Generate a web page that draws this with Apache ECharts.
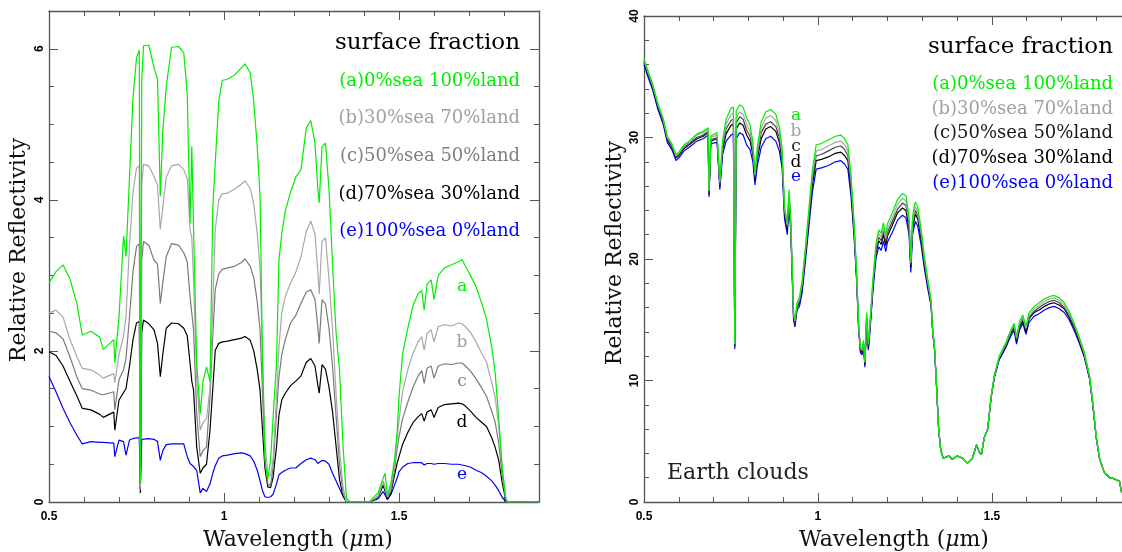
<!DOCTYPE html>
<html><head><meta charset="utf-8">
<script src="https://cdn.jsdelivr.net/npm/echarts@6/dist/echarts.min.js"></script>
<style>html,body{margin:0;padding:0;background:#fff}#c{width:1122px;height:552px}</style>
</head><body><div id="c"></div>
<script>
// ---------- LEFT PANEL DATA (wavelength in micron) ----------
const lamL = [
 0.50,0.52,0.54,0.56,0.58,0.595,0.62,0.645,0.655,0.685,
 0.688,0.70,0.713,0.72,0.73,0.74,0.75,0.758,0.761,0.765,
 0.77,0.785,0.80,0.81,0.818,0.825,0.835,0.85,0.87,0.885,
 0.895,0.903,0.908,0.913,0.922,0.932,0.94,0.95,0.96,0.968,
 0.975,0.985,0.995,1.01,1.03,1.05,1.06,1.075,1.085,1.095,
 1.103,1.11,1.117,1.125,1.133,1.14,1.15,1.157,1.165,1.175,
 1.19,1.205,1.22,1.235,1.248,1.26,1.268,1.272,1.28,1.29,
 1.30,1.31,1.32,1.33,1.34,1.35,1.36,1.40,1.415,1.44,
 1.455,1.46,1.467,1.477,1.487,1.495,1.50,1.51,1.525,1.54,
 1.555,1.565,1.572,1.58,1.592,1.60,1.612,1.63,1.65,1.67,
 1.68,1.69,1.705,1.72,1.735,1.75,1.765,1.775,1.785,1.795,
 1.805,1.81,1.90];
const leftA = [
 2.90,3.05,3.14,2.95,2.62,2.21,2.26,2.18,2.02,2.15,
 1.84,2.45,3.52,3.25,4.30,5.35,5.88,5.98,0.24,5.60,
 6.04,6.05,5.75,5.60,4.05,4.90,5.50,6.02,6.03,5.95,
 5.40,3.69,4.71,3.61,1.84,1.17,1.60,1.79,1.60,3.90,
 4.49,5.30,5.58,5.60,5.65,5.75,5.80,5.68,5.30,4.70,
 4.05,1.90,0.55,0.30,0.55,1.10,1.84,3.20,3.55,3.85,
 4.10,4.30,4.40,4.95,5.05,4.75,4.15,3.96,4.70,4.75,
 4.14,3.16,2.25,1.75,0.75,0.05,0,0,0,0.12,
 0.32,0.38,0.09,0.25,0.55,0.95,1.39,1.95,2.30,2.60,
 2.76,2.80,2.54,2.88,2.94,2.68,3.00,3.10,3.14,3.18,
 3.21,3.12,2.99,2.85,2.65,2.42,2.05,1.70,1.10,0.45,
 0.05,0,0];
const leftB = [
 2.50,2.54,2.45,2.15,1.92,1.77,1.75,1.68,1.64,1.70,
 1.58,1.95,2.20,2.45,3.40,4.10,4.42,4.45,0.20,4.20,
 4.47,4.45,4.31,4.20,3.61,3.90,4.30,4.45,4.47,4.40,
 4.28,3.61,3.50,2.94,1.62,0.95,1.05,1.10,1.50,2.60,
 3.61,4.00,4.08,4.09,4.14,4.21,4.25,4.15,3.95,3.55,
 3.08,1.95,0.80,0.36,0.35,0.55,1.39,2.05,2.50,2.72,
 2.90,3.04,3.25,3.58,3.72,3.55,3.05,2.75,3.45,3.50,
 2.95,2.30,1.45,0.70,0.20,0,0,0,0,0.08,
 0.28,0.30,0.07,0.22,0.50,0.85,1.08,1.45,1.75,1.97,
 2.12,2.19,2.01,2.23,2.28,2.12,2.32,2.35,2.33,2.37,
 2.36,2.32,2.24,2.12,1.98,1.85,1.58,1.38,1.00,0.45,
 0.05,0,0];
const leftC = [
 2.26,2.24,2.16,1.92,1.65,1.50,1.48,1.43,1.42,1.46,
 1.22,1.62,1.75,1.90,2.45,3.05,3.38,3.42,0.16,3.20,
 3.45,3.40,3.20,3.15,2.63,2.90,3.25,3.42,3.40,3.30,
 3.18,2.72,2.50,2.28,1.17,0.60,0.68,0.73,1.39,2.20,
 2.81,3.02,3.08,3.10,3.12,3.17,3.22,3.12,2.97,2.65,
 2.28,1.45,0.60,0.24,0.22,0.45,1.17,1.65,1.95,2.15,
 2.37,2.47,2.63,2.78,2.81,2.68,2.32,2.10,2.68,2.62,
 2.30,1.80,1.15,0.50,0.12,0,0,0,0,0.07,
 0.27,0.28,0.06,0.15,0.42,0.72,0.86,1.10,1.32,1.52,
 1.67,1.74,1.57,1.77,1.80,1.64,1.80,1.83,1.82,1.84,
 1.84,1.80,1.73,1.63,1.52,1.40,1.20,1.05,0.78,0.35,
 0.04,0,0];
const leftD = [
 1.99,1.94,1.80,1.60,1.40,1.24,1.22,1.16,1.12,1.19,
 0.95,1.35,1.45,1.50,1.80,2.15,2.37,2.39,0.12,2.25,
 2.41,2.36,2.28,2.10,1.66,1.95,2.30,2.37,2.36,2.30,
 2.20,1.84,1.60,1.48,0.73,0.38,0.45,0.50,0.95,1.50,
 2.01,2.10,2.12,2.13,2.15,2.17,2.19,2.14,2.00,1.75,
 1.48,0.95,0.45,0.20,0.19,0.32,0.73,1.15,1.35,1.44,
 1.54,1.60,1.67,1.85,1.90,1.80,1.55,1.44,1.82,1.76,
 1.52,1.20,0.75,0.30,0.08,0,0,0,0,0.06,
 0.22,0.24,0.04,0.12,0.35,0.52,0.60,0.76,0.92,1.05,
 1.13,1.17,1.07,1.19,1.22,1.12,1.25,1.29,1.30,1.31,
 1.30,1.27,1.20,1.12,1.06,1.00,0.85,0.72,0.55,0.25,
 0.03,0,0];
const leftE = [
 1.66,1.46,1.24,1.05,0.88,0.77,0.80,0.79,0.79,0.78,
 0.60,0.82,0.80,0.62,0.82,0.84,0.85,0.85,0.18,0.83,
 0.84,0.84,0.83,0.80,0.55,0.68,0.76,0.77,0.77,0.77,
 0.60,0.51,0.50,0.47,0.42,0.12,0.18,0.14,0.24,0.38,
 0.48,0.58,0.61,0.62,0.64,0.65,0.64,0.61,0.54,0.42,
 0.28,0.15,0.07,0.06,0.07,0.10,0.24,0.36,0.39,0.42,
 0.45,0.45,0.51,0.56,0.58,0.56,0.51,0.50,0.55,0.54,
 0.50,0.38,0.28,0.18,0.08,0,0,0,0,0.04,
 0.14,0.15,0.03,0.10,0.22,0.32,0.40,0.46,0.51,0.52,
 0.52,0.52,0.49,0.51,0.51,0.50,0.51,0.51,0.50,0.50,
 0.49,0.48,0.46,0.42,0.39,0.34,0.28,0.22,0.15,0.06,
 0.01,0,0];

// ---------- RIGHT PANEL DATA (Earth clouds) ----------
const lamR = [
 0.50,0.51,0.525,0.54,0.555,0.567,0.58,0.592,0.60,0.615,
 0.63,0.652,0.67,0.684,0.687,0.692,0.71,0.718,0.726,0.736,
 0.75,0.757,0.761,0.765,0.775,0.785,0.795,0.805,0.813,0.819,
 0.826,0.837,0.85,0.864,0.879,0.889,0.897,0.904,0.912,0.917,
 0.922,0.93,0.934,0.94,0.947,0.955,0.965,0.972,0.984,0.995,
 1.01,1.03,1.05,1.066,1.077,1.086,1.095,1.104,1.111,1.117,
 1.122,1.127,1.131,1.135,1.14,1.145,1.15,1.158,1.167,1.175,
 1.182,1.188,1.195,1.20,1.214,1.229,1.243,1.253,1.262,1.267,
 1.272,1.28,1.287,1.297,1.306,1.316,1.325,1.33,1.335,1.34,
 1.347,1.353,1.36,1.377,1.387,1.40,1.416,1.43,1.444,1.456,
 1.464,1.47,1.478,1.488,1.498,1.507,1.521,1.54,1.555,1.564,
 1.571,1.58,1.589,1.598,1.607,1.622,1.636,1.651,1.665,1.679,
 1.694,1.708,1.722,1.737,1.751,1.766,1.781,1.79,1.80,1.81,
 1.824,1.839,1.853,1.867,1.872,1.88,1.90];
const rightA = [
 36.5,35.6,34.4,32.8,31.6,30.1,29.5,28.6,28.8,29.4,
 29.7,30.3,30.5,30.8,25.7,30.1,30.4,26.5,29.8,31.5,
 32.4,32.5,13.1,32.2,32.7,32.5,31.6,31.0,29.6,27.1,
 29.3,31.3,32.1,32.3,31.9,30.9,29.1,24.3,23.0,25.7,
 23.2,15.6,15.0,16.4,16.9,18.3,21.3,23.5,27.3,29.4,
 29.5,29.8,30.1,30.2,29.9,29.4,27.0,23.0,19.1,14.7,
 12.8,12.6,13.3,11.6,15.6,13.1,15.0,18.3,21.3,22.4,
 22.1,23.0,22.0,22.9,23.8,24.9,25.4,25.2,23.5,19.9,
 23.5,24.7,24.3,22.4,20.2,18.3,16.7,14.2,12.8,10.1,
 6.0,4.3,3.6,3.8,3.5,3.8,3.6,3.2,3.6,4.7,
 4.1,3.9,5.3,6.0,8.7,10.4,12.0,13.1,14.2,14.7,
 13.6,14.9,15.4,14.5,15.6,16.1,16.4,16.7,16.9,17.0,
 16.8,16.4,15.7,14.7,13.6,12.3,10.4,8.2,5.4,3.5,
 2.4,2.0,1.9,1.7,0.9,0.6,0.5];
const rightB = [
 36.4,35.5,34.3,32.7,31.5,30.0,29.4,28.5,28.7,29.3,
 29.6,30.2,30.4,30.7,25.6,30.0,30.2,26.3,29.5,31.1,
 31.9,32.0,13.0,31.6,32.1,31.9,31.1,30.5,29.2,26.9,
 28.9,30.8,31.6,31.8,31.4,30.4,28.7,24.1,22.8,25.4,
 23.0,15.5,14.9,16.3,16.7,18.1,21.0,23.2,26.9,28.9,
 29.0,29.3,29.6,29.7,29.4,28.9,26.6,22.7,18.9,14.6,
 12.7,12.5,13.2,11.5,15.4,13.0,14.8,18.1,21.0,22.1,
 21.8,22.6,21.7,22.5,23.4,24.5,25.0,24.8,23.1,19.7,
 23.1,24.3,23.9,22.1,20.0,18.1,16.6,14.1,12.8,10.1,
 6.0,4.3,3.6,3.8,3.5,3.8,3.6,3.2,3.6,4.7,
 4.1,3.9,5.3,6.0,8.7,10.4,11.9,13.0,14.1,14.6,
 13.5,14.7,15.2,14.3,15.4,15.9,16.2,16.5,16.7,16.8,
 16.6,16.2,15.5,14.6,13.5,12.2,10.3,8.2,5.4,3.5,
 2.4,2.0,1.9,1.7,0.9,0.6,0.5];
const rightC = [
 36.3,35.4,34.2,32.6,31.4,29.9,29.3,28.4,28.6,29.2,
 29.5,30.0,30.2,30.5,25.4,29.8,30.0,26.1,29.3,30.7,
 31.4,31.5,12.9,31.2,31.7,31.5,30.6,30.1,28.9,26.7,
 28.6,30.4,31.1,31.3,30.9,30.0,28.4,23.9,22.6,25.2,
 22.8,15.3,14.7,16.1,16.5,17.9,20.8,22.9,26.5,28.5,
 28.6,28.9,29.2,29.3,29.0,28.5,26.2,22.5,18.7,14.5,
 12.6,12.4,13.1,11.4,15.2,12.8,14.6,17.9,20.8,21.8,
 21.5,22.3,21.4,22.2,23.1,24.1,24.6,24.4,22.8,19.5,
 22.8,24.0,23.6,21.8,19.8,17.9,16.5,14.1,12.7,10.1,
 6.0,4.3,3.6,3.8,3.5,3.8,3.6,3.2,3.6,4.7,
 4.1,3.9,5.3,6.0,8.7,10.3,11.9,12.9,14.0,14.4,
 13.3,14.6,15.1,14.2,15.2,15.7,16.0,16.3,16.5,16.6,
 16.4,16.0,15.4,14.4,13.4,12.1,10.3,8.1,5.4,3.5,
 2.4,2.0,1.9,1.7,0.9,0.6,0.5];
const rightD = [
 36.2,35.3,34.1,32.5,31.3,29.8,29.2,28.3,28.5,29.1,
 29.4,29.9,30.1,30.4,25.3,29.7,29.9,26.0,29.0,30.3,
 31.0,31.1,12.8,30.7,31.2,31.0,30.2,29.7,28.6,26.5,
 28.3,29.9,30.7,30.9,30.5,29.6,28.1,23.7,22.4,24.9,
 22.6,15.2,14.6,16.0,16.4,17.7,20.5,22.6,26.1,28.1,
 28.2,28.4,28.7,28.8,28.5,28.1,25.8,22.2,18.6,14.4,
 12.5,12.3,13.0,11.3,15.1,12.7,14.5,17.7,20.5,21.5,
 21.2,22.0,21.1,21.9,22.8,23.8,24.2,24.0,22.5,19.3,
 22.5,23.7,23.3,21.5,19.6,17.8,16.4,14.0,12.7,10.1,
 6.0,4.3,3.6,3.8,3.5,3.8,3.6,3.2,3.6,4.7,
 4.1,3.9,5.3,6.0,8.6,10.3,11.8,12.8,13.9,14.3,
 13.2,14.4,14.9,14.0,15.1,15.6,15.8,16.1,16.3,16.4,
 16.2,15.9,15.2,14.3,13.3,12.0,10.2,8.1,5.3,3.5,
 2.4,2.0,1.9,1.7,0.9,0.6,0.5];
const rightE = [
 36.0,35.1,33.9,32.3,31.1,29.6,29.0,28.1,28.3,28.9,
 29.2,29.7,29.9,30.2,25.1,29.5,29.6,25.7,28.6,29.7,
 30.2,30.3,12.6,29.9,30.4,30.2,29.4,29.0,28.0,26.1,
 27.7,29.2,29.9,30.1,29.7,28.9,27.5,23.3,22.0,24.5,
 22.2,15.0,14.4,15.8,16.1,17.3,20.1,22.1,25.5,27.4,
 27.5,27.7,28.0,28.1,27.8,27.4,25.2,21.8,18.3,14.2,
 12.3,12.1,12.8,11.1,14.8,12.5,14.2,17.3,20.1,21.0,
 20.7,21.5,20.6,21.4,22.2,23.2,23.6,23.4,22.0,18.9,
 22.0,23.1,22.7,21.1,19.2,17.5,16.2,13.9,12.6,10.1,
 6.0,4.3,3.6,3.8,3.5,3.8,3.6,3.2,3.6,4.7,
 4.1,3.9,5.3,6.0,8.6,10.2,11.7,12.7,13.7,14.1,
 13.0,14.2,14.7,13.8,14.8,15.3,15.5,15.8,16.0,16.1,
 15.9,15.6,15.0,14.1,13.1,11.9,10.1,8.0,5.3,3.5,
 2.4,2.0,1.9,1.7,0.9,0.6,0.5];

// ---------- TEXT ----------
const legendTitle = 'surface fraction';
const legendLabels = ['(a)0%sea 100%land','(b)30%sea 70%land','(c)50%sea 50%land','(d)70%sea 30%land','(e)100%sea 0%land'];
const curveLetters = ['a','b','c','d','e'];
const xTitle = 'Wavelength ({i|\u03bc}m)';
const yTitle = 'Relative Reflectivity';
const noteRight = 'Earth clouds';

// ---------- STYLE ----------
const leftColors = ['#00ee00','#a8a8a8','#7a7a7a','#000000','#0000ff'];
const rightColors = ['#00ee00','#a8a8a8','#444444','#000000','#0000ff'];
const leftTextColors = ['#00ee00','#a0a0a0','#808080','#000000','#0000ff'];
const rightTextColors = ['#00ee00','#a0a0a0','#1a1a1a','#000000','#0000ff'];
const FRAME = '#555';
const SERIF = "'DejaVu Serif', 'Liberation Serif', serif";
const SANS = "'Liberation Sans', Arial, sans-serif";

function pairs(xs, ys){ return xs.map((x,i)=>[x, ys[i]]); }

function buildAxes(gridIndex, dim, min, max, minor, major, labelCfg, minorLen, majorLen){
  const sides = dim === 'x' ? ['bottom','top'] : ['left','right'];
  const out = [];
  sides.forEach((side, si) => {
    [minor, major].forEach((iv, k) => {
      out.push({
        gridIndex, type:'value', position: side, min, max, interval: iv,
        axisLine: {show: k===0, onZero:false, lineStyle:{color:FRAME, width:1.3}},
        axisTick: {show:true, inside:true, length: k===0 ? minorLen : majorLen, lineStyle:{color:FRAME, width:1}},
        axisLabel: (si===0 && k===1) ? labelCfg : {show:false},
        splitLine: {show:false},
        axisPointer: {show:false}
      });
    });
  });
  return out;
}
function majorFmt(labelStep){
  return function(v){
    const r = v/labelStep;
    if (Math.abs(r - Math.round(r)) > 1e-6) return '';
    return String(Math.round(v*10)/10);
  };
}
const xLabelCfg = {show:true, fontFamily:SANS, fontWeight:'bold', fontSize:12, color:'#000', margin:9, formatter: majorFmt(0.5)};
const yLabelCfgL = {show:true, rotate:90, fontFamily:SANS, fontWeight:'bold', fontSize:12, color:'#000', margin:3, formatter: majorFmt(2)};
const yLabelCfgR = {show:true, rotate:90, fontFamily:SANS, fontWeight:'bold', fontSize:12, color:'#000', margin:3, formatter: majorFmt(10)};

const xAxes = [].concat(
  buildAxes(0,'x',0.5,1.9,0.1,0.5,xLabelCfg,5,9),
  buildAxes(1,'x',0.5,1.9,0.1,0.5,xLabelCfg,5,9)
);
const yAxes = [].concat(
  buildAxes(0,'y',0,6.5,0.5,2,yLabelCfgL,5,9),
  buildAxes(1,'y',0,40,2,10,yLabelCfgR,5,9)
);

const series = [];
const leftSets = [leftA,leftB,leftC,leftD,leftE];
const rightSets = [rightA,rightB,rightC,rightD,rightE];
for (let i = 4; i >= 0; i--) {
  series.push({type:'line', xAxisIndex:0, yAxisIndex:0, data:pairs(lamL,leftSets[i]), showSymbol:false, symbol:'none',
    lineStyle:{color:leftColors[i], width:1.2}, itemStyle:{color:leftColors[i]}, silent:true, animation:false, clip:true});
}
for (let i = 4; i >= 0; i--) {
  series.push({type:'line', xAxisIndex:4, yAxisIndex:4, data:pairs(lamR,rightSets[i]), showSymbol:false, symbol:'none',
    lineStyle:{color:rightColors[i], width:1.2}, itemStyle:{color:rightColors[i]}, silent:true, animation:false, clip:true});
}

function T(x, y, text, size, fill, align, extra){
  return Object.assign({type:'text', x, y, silent:true, z:100,
    style:{text, fill, fontFamily:SERIF, fontSize:size, align: align||'center', verticalAlign:'middle'}}, extra||{});
}
const graphics = [];
// left legend
graphics.push(T(520, 43, legendTitle, 23, '#000', 'right'));
[81,118,156,194,231].forEach((y,i)=>graphics.push(T(520, y, legendLabels[i], 18, leftTextColors[i], 'right')));
[287,343,382,423,475].forEach((y,i)=>graphics.push(T(462, y, curveLetters[i], 17, leftTextColors[i], 'center')));
// right legend
graphics.push(T(1113, 47, legendTitle, 23, '#000', 'right'));
[84,109,133,158,183].forEach((y,i)=>graphics.push(T(1113, y, legendLabels[i], 18, rightTextColors[i], 'right')));
[116,132,147,163,177].forEach((y,i)=>graphics.push(T(796, y, curveLetters[i], 17, rightTextColors[i], 'center')));
graphics.push(T(667, 473, noteRight, 22, '#222', 'left'));
// axis titles
function xt(x){ return {type:'text', x, y:540, silent:true, z:100,
  style:{text:xTitle, fill:'#111', fontFamily:SERIF, fontSize:22, align:'center', verticalAlign:'middle',
    rich:{i:{fontStyle:'italic', fontFamily:SERIF, fontSize:22, fill:'#111'}}}}; }
graphics.push(xt(298)); graphics.push(xt(894));
function yt(x, y){ return {type:'text', x, y, rotation:Math.PI/2, silent:true, z:100,
  style:{text:yTitle, fill:'#111', fontFamily:SERIF, fontSize:22, align:'center', verticalAlign:'middle'}}; }
graphics.push(yt(19, 250)); graphics.push(yt(615, 253));

const chart = echarts.init(document.getElementById('c'), null, {renderer:'canvas'});
chart.setOption({
  backgroundColor:'#ffffff',
  animation:false,
  grid:[
    {left:49, top:11, width:490, height:491, outerBoundsMode:'none', containLabel:false},
    {left:644, top:16, width:487, height:486, outerBoundsMode:'none', containLabel:false}
  ],
  xAxis:xAxes,
  yAxis:yAxes,
  series,
  graphic:{elements:graphics}
});
</script>
</body></html>
